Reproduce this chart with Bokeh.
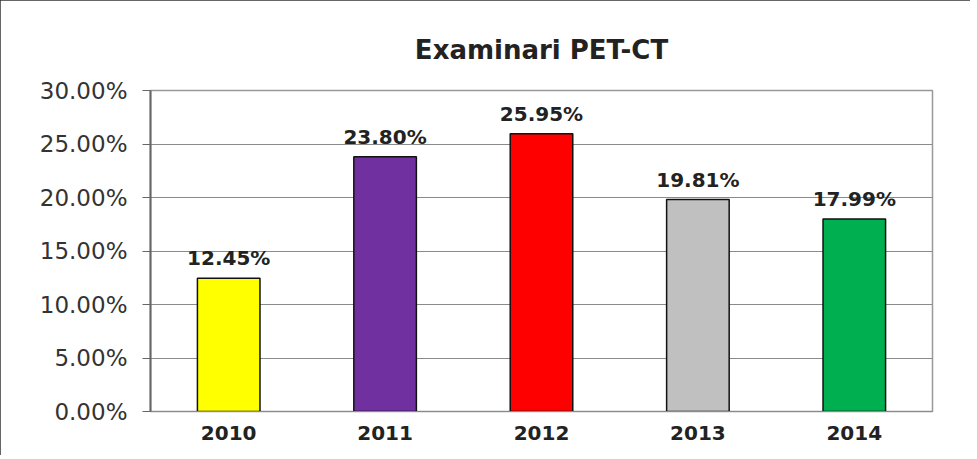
from bokeh.plotting import figure
from bokeh.models import ColumnDataSource, Range1d, FixedTicker, LabelSet
from bokeh.core.properties import value
from bokeh.embed import file_html
from bokeh.resources import INLINE

years = ["2010", "2011", "2012", "2013", "2014"]
values = [12.45, 23.80, 25.95, 19.81, 17.99]
labels = ["12.45%", "23.80%", "25.95%", "19.81%", "17.99%"]
colors = ["#FFFF00", "#7030A0", "#FF0000", "#C0C0C0", "#00B050"]
tick_values = [0, 5, 10, 15, 20, 25, 30]
tick_labels = ["0.00%", "5.00%", "10.00%", "15.00%", "20.00%", "25.00%", "30.00%"]
title_text = "Examinari PET-CT"

src = ColumnDataSource(dict(year=years, value=values, label=labels, color=colors))

p = figure(x_range=years, y_range=Range1d(0, 30), width=970, height=455,
           output_backend="svg", toolbar_location=None,
           min_border_left=150, min_border_right=38, min_border_top=90,
           min_border_bottom=44)
p.styles = {"outline": "2px solid #333333", "outline-offset": "-2px"}

p.title.text = title_text
p.title.align = "center"
p.title.text_font = "DejaVu Sans"
p.title.text_font_size = "26px"
p.title.text_font_style = "bold"
p.title.text_color = "#222222"
p.title.standoff = 52

p.vbar(x="year", top="value", width=0.4, source=src, fill_color="color",
       line_color="#111111", line_width=1.5)

p.add_layout(LabelSet(x="year", y="value", text="label", source=src,
                      text_align="center", text_baseline="bottom", y_offset=8,
                      text_font=value("DejaVu Sans"), text_font_size=value("20px"),
                      text_font_style="bold", text_color="#222222"))

p.outline_line_color = "#999999"
p.outline_line_width = 1.5
p.xgrid.grid_line_color = None
p.ygrid.grid_line_color = "#8a8a8a"
p.ygrid.grid_line_width = 1.2

p.yaxis.ticker = FixedTicker(ticks=tick_values)
p.yaxis.major_label_overrides = {t: l for t, l in zip(tick_values, tick_labels)}
p.yaxis.major_tick_out = 8
p.yaxis.major_tick_in = 0
p.yaxis.minor_tick_line_color = None
p.yaxis.major_label_standoff = 15
p.yaxis.axis_line_color = "#666666"
p.yaxis.axis_line_width = 2
p.yaxis.major_tick_line_color = "#666666"
p.yaxis.major_label_text_font = "DejaVu Sans"
p.yaxis.major_label_text_font_size = "23px"
p.yaxis.major_label_text_color = "#333333"

p.xaxis.axis_line_color = "#8a8a8a"
p.xaxis.major_tick_line_color = None
p.xaxis.minor_tick_line_color = None
p.xaxis.major_label_standoff = 8
p.xaxis.major_label_text_font = "DejaVu Sans"
p.xaxis.major_label_text_font_size = "20px"
p.xaxis.major_label_text_font_style = "bold"
p.xaxis.major_label_text_color = "#222222"

p.background_fill_color = "white"
p.border_fill_color = "white"

open("out.html", "w").write(file_html(p, INLINE))
